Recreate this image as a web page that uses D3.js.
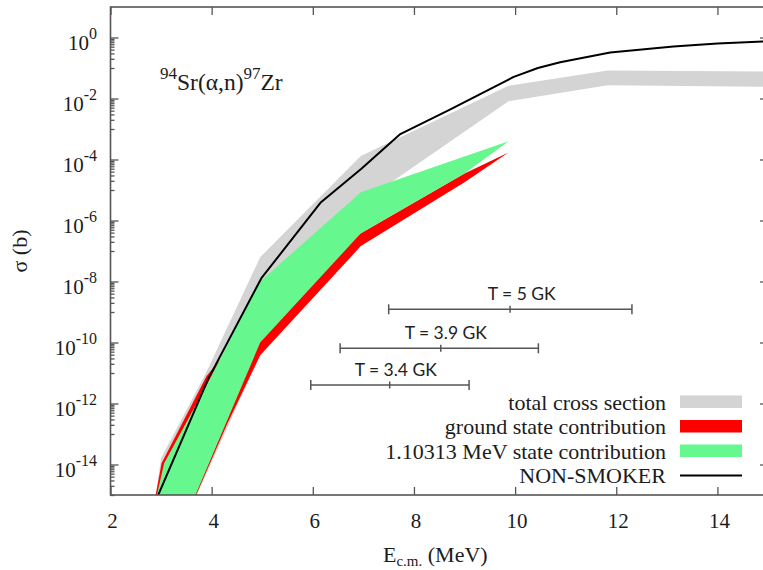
<!DOCTYPE html>
<html>
<head>
<meta charset="utf-8">
<script src="https://cdn.jsdelivr.net/npm/d3@7"></script>
<style>
  html, body { margin: 0; padding: 0; background: #fff; }
  svg { display: block; }
</style>
</head>
<body>
<svg id="chart" width="763" height="570"></svg>
<script>
// ---- axis ticks ----
const energyTicks = [2, 4, 6, 8, 10, 12, 14];
const sigmaTickExponents = [0, -2, -4, -6, -8, -10, -12, -14];

// ---- total cross section band (E in MeV, sigma in b) ----
const totalUpperE = [2.85, 3.0, 3.9, 4.96, 6.95, 9.87, 11.83, 15.0];
const totalUpper  = [3.2e-16, 1.6e-14, 1.1e-11, 6.3e-8, 1.3e-4, 2.6e-2, 8.3e-2, 7.6e-2];
const totalLowerE = [2.8, 3.6, 4.96, 6.95, 9.87, 11.83, 15.0];
const totalLower  = [1e-18, 4.0e-16, 4.0e-11, 3.7e-6, 8.1e-3, 2.7e-2, 2.4e-2];

// ---- ground state contribution band ----
const groundUpperE = [2.85, 3.01, 3.9, 4.96, 6.95, 9.0, 9.87, 15.0];
const groundUpper  = [4.0e-16, 1.1e-14, 7.9e-12, 1.0e-9, 3.8e-7, 3.5e-5, 1.7e-4, 1.81e-4];
const groundLowerE = [3.6, 3.68, 4.3, 4.96, 6.95, 9.0, 9.87, 15.0];
const groundLower  = [4.0e-16, 8.9e-16, 2.0e-13, 3.8e-11, 1.45e-7, 1.8e-5, 1.7e-4, 1.8e-4];

// ---- 1.10313 MeV state contribution band ----
const excitedUpperE = [2.89, 3.06, 3.9, 4.96, 6.95, 9.87, 15.0];
const excitedUpper  = [6.3e-16, 1.1e-14, 4.0e-12, 1.0e-8, 8.5e-6, 4.0e-4, 3.51e-4];
const excitedLowerE = [3.55, 3.68, 4.96, 6.95, 9.0, 9.87, 15.0];
const excitedLower  = [3.2e-16, 1.0e-15, 1.0e-10, 3.8e-7, 3.5e-5, 4.0e-4, 3.5e-4];

// ---- NON-SMOKER prediction ----
const nonSmokerE     = [2.9, 3.93, 4.98, 6.15, 6.96, 7.73, 8.72, 9.96, 10.45, 10.89, 11.88, 13.13, 14.0, 15.0];
const nonSmokerSigma = [6.8e-16, 6.3e-12, 1.26e-8, 3.8e-6, 5.0e-5, 6.8e-4, 4.4e-3, 5.0e-2, 0.10, 0.155, 0.32, 0.51, 0.63, 0.76];

// ---- Gamow windows ----
const gamowLabels = ["T = 5 GK", "T = 3.9 GK", "T = 3.4 GK"];
const gamowLow    = [7.5, 6.54, 5.96];
const gamowPeak   = [9.9, 8.53, 7.52];
const gamowHigh   = [12.31, 10.46, 9.09];
const gamowLabelE = [10.13, 8.63, 7.64];

// ---- legend ----
const legendLabels = ["total cross section", "ground state contribution",
                      "1.10313 MeV state contribution", "NON-SMOKER"];

// ---- layout & style ----
const plot = { left: 110.5, right: 768, top: 7, bottom: 495 };
const gamowRowY = [309.3, 348.3, 385];
const colors = { total: "#d4d4d4", ground: "#ff0000", excited: "#66f78e", line: "#000" };
const axisColor = "#555";
const textColor = "#1c1c1c";
const serif = "'Liberation Serif', 'Times New Roman', serif";

const svg = d3.select("#chart");

const x = d3.scaleLinear().domain([2, 15]).range([plot.left, plot.right]);
const y = d3.scaleLog().domain([1e-15, 1e1]).range([plot.bottom, plot.top]);

svg.append("defs").append("clipPath").attr("id", "plotClip")
  .append("rect")
  .attr("x", plot.left).attr("y", plot.top)
  .attr("width", plot.right - plot.left).attr("height", plot.bottom - plot.top);

const lineGen = d3.line().x(d => x(d[0])).y(d => y(d[1]));

// closed band outline: upper edge left to right, lower edge back
function bandPath(uE, u, lE, l) {
  const upper = uE.map((e, i) => [e, u[i]]);
  const lower = lE.map((e, i) => [e, l[i]]).reverse();
  return lineGen(upper.concat(lower)) + "Z";
}

const marks = svg.append("g").attr("clip-path", "url(#plotClip)");

marks.append("path")
  .attr("d", bandPath(totalUpperE, totalUpper, totalLowerE, totalLower))
  .attr("fill", colors.total);
marks.append("path")
  .attr("d", bandPath(groundUpperE, groundUpper, groundLowerE, groundLower))
  .attr("fill", colors.ground);
marks.append("path")
  .attr("d", bandPath(excitedUpperE, excitedUpper, excitedLowerE, excitedLower))
  .attr("fill", colors.excited);
marks.append("path")
  .attr("d", lineGen(nonSmokerE.map((e, i) => [e, nonSmokerSigma[i]])))
  .attr("fill", "none").attr("stroke", colors.line).attr("stroke-width", 2)
  .attr("stroke-linejoin", "round");

// ---- axes: ticks on all four sides ----
const minorTicks = [];
sigmaTickExponents.concat([-16]).forEach(e => {
  for (let k = 1; k <= 9; k++) {
    const v = k * Math.pow(10, e - 1);
    if (v >= 1e-15 && v <= 1e1) minorTicks.push(v);
  }
});
const majorTicks = sigmaTickExponents.map(e => Math.pow(10, e));

function styleAxis(g) {
  g.select(".domain").remove();
  g.selectAll("line").attr("stroke", axisColor).attr("stroke-width", 1.3);
}

svg.append("g").attr("transform", `translate(0,${plot.bottom})`)
  .call(d3.axisBottom(x).tickValues(energyTicks).tickSize(-8).tickFormat(""))
  .call(styleAxis);
svg.append("g").attr("transform", `translate(0,${plot.top})`)
  .call(d3.axisTop(x).tickValues(energyTicks).tickSize(-8).tickFormat(""))
  .call(styleAxis);
svg.append("g").attr("transform", `translate(${plot.left},0)`)
  .call(d3.axisLeft(y).tickValues(majorTicks).tickSize(-8).tickFormat(""))
  .call(styleAxis);
svg.append("g").attr("transform", `translate(${plot.left},0)`)
  .call(d3.axisLeft(y).tickValues(minorTicks).tickSize(-4).tickFormat(""))
  .call(styleAxis);
svg.append("g").attr("transform", `translate(${plot.right},0)`)
  .call(d3.axisRight(y).tickValues(majorTicks).tickSize(-8).tickFormat(""))
  .call(styleAxis);
svg.append("g").attr("transform", `translate(${plot.right},0)`)
  .call(d3.axisRight(y).tickValues(minorTicks).tickSize(-4).tickFormat(""))
  .call(styleAxis);

svg.append("rect")
  .attr("x", plot.left).attr("y", plot.top)
  .attr("width", plot.right - plot.left).attr("height", plot.bottom - plot.top)
  .attr("fill", "none").attr("stroke", axisColor).attr("stroke-width", 1.6);

// x tick labels
svg.append("g").selectAll("text").data(energyTicks).join("text")
  .attr("x", d => x(d) + 2).attr("y", plot.bottom + 33)
  .attr("text-anchor", "middle")
  .attr("font-family", serif).attr("font-size", 21).attr("fill", textColor)
  .text(d => d);

// y tick labels as powers of ten
const yLabels = svg.append("g").selectAll("text").data(sigmaTickExponents).join("text")
  .attr("x", 97).attr("y", d => y(Math.pow(10, d)) + 12)
  .attr("text-anchor", "end")
  .attr("font-family", serif).attr("font-size", 21).attr("fill", textColor);
yLabels.append("tspan").text("10");
yLabels.append("tspan").attr("dy", -11).attr("font-size", 16).text(d => String(d));

// axis titles
const xTitle = svg.append("text")
  .attr("x", 383).attr("y", 562)
  .attr("font-family", serif).attr("font-size", 22).attr("fill", textColor);
xTitle.append("tspan").text("E");
xTitle.append("tspan").attr("dy", 4).attr("font-size", 15).text("c.m.");
xTitle.append("tspan").attr("dy", -4).text(" (MeV)");

svg.append("text")
  .attr("transform", "translate(27,251) rotate(-90)")
  .attr("text-anchor", "middle")
  .attr("font-family", serif).attr("font-size", 22).attr("fill", textColor)
  .text("σ (b)");

// reaction title
const title = svg.append("text")
  .attr("x", 160).attr("y", 90)
  .attr("font-family", serif).attr("font-size", 23.5).attr("fill", textColor);
title.append("tspan").attr("dy", -11).attr("font-size", 17).text("94");
title.append("tspan").attr("dy", 11).text("Sr(α,n)");
title.append("tspan").attr("dy", -11).attr("font-size", 17).text("97");
title.append("tspan").attr("dy", 11).text("Zr");

// Gamow windows
const gw = svg.append("g").selectAll("g").data(gamowLabels).join("g");
gw.append("line")
  .attr("x1", (d, i) => x(gamowLow[i])).attr("x2", (d, i) => x(gamowHigh[i]))
  .attr("y1", (d, i) => gamowRowY[i]).attr("y2", (d, i) => gamowRowY[i]);
gw.append("line")
  .attr("x1", (d, i) => x(gamowLow[i])).attr("x2", (d, i) => x(gamowLow[i]))
  .attr("y1", (d, i) => gamowRowY[i] - 5).attr("y2", (d, i) => gamowRowY[i] + 5);
gw.append("line")
  .attr("x1", (d, i) => x(gamowHigh[i])).attr("x2", (d, i) => x(gamowHigh[i]))
  .attr("y1", (d, i) => gamowRowY[i] - 5).attr("y2", (d, i) => gamowRowY[i] + 5);
gw.append("line")
  .attr("x1", (d, i) => x(gamowPeak[i])).attr("x2", (d, i) => x(gamowPeak[i]))
  .attr("y1", (d, i) => gamowRowY[i] - 3.5).attr("y2", (d, i) => gamowRowY[i] + 3.5);
gw.selectAll("line").attr("stroke", "#555").attr("stroke-width", 1.5);
gw.append("text")
  .attr("x", (d, i) => x(gamowLabelE[i])).attr("y", (d, i) => gamowRowY[i] - 9)
  .attr("text-anchor", "middle")
  .attr("font-family", "Lato, 'Open Sans', sans-serif").attr("font-size", 17.5)
  .attr("fill", "#222")
  .text(d => d);

// legend
const legendFill = [colors.total, colors.ground, colors.excited, null];
const lg = svg.append("g").selectAll("g").data(legendLabels).join("g")
  .attr("transform", (d, i) => `translate(0,${409.5 + i * 24.5})`);
lg.append("text")
  .attr("x", 666).attr("y", 0).attr("text-anchor", "end")
  .attr("font-family", serif).attr("font-size", 22).attr("fill", textColor)
  .text(d => d);
lg.filter((d, i) => legendFill[i] !== null).append("rect")
  .attr("x", 680).attr("y", -14).attr("width", 62).attr("height", 12.5)
  .attr("fill", (d, i) => legendFill[i]);
lg.filter((d, i) => legendFill[i] === null).append("line")
  .attr("x1", 680).attr("x2", 742).attr("y1", -7.5).attr("y2", -7.5)
  .attr("stroke", colors.line).attr("stroke-width", 2);
</script>
</body>
</html>
